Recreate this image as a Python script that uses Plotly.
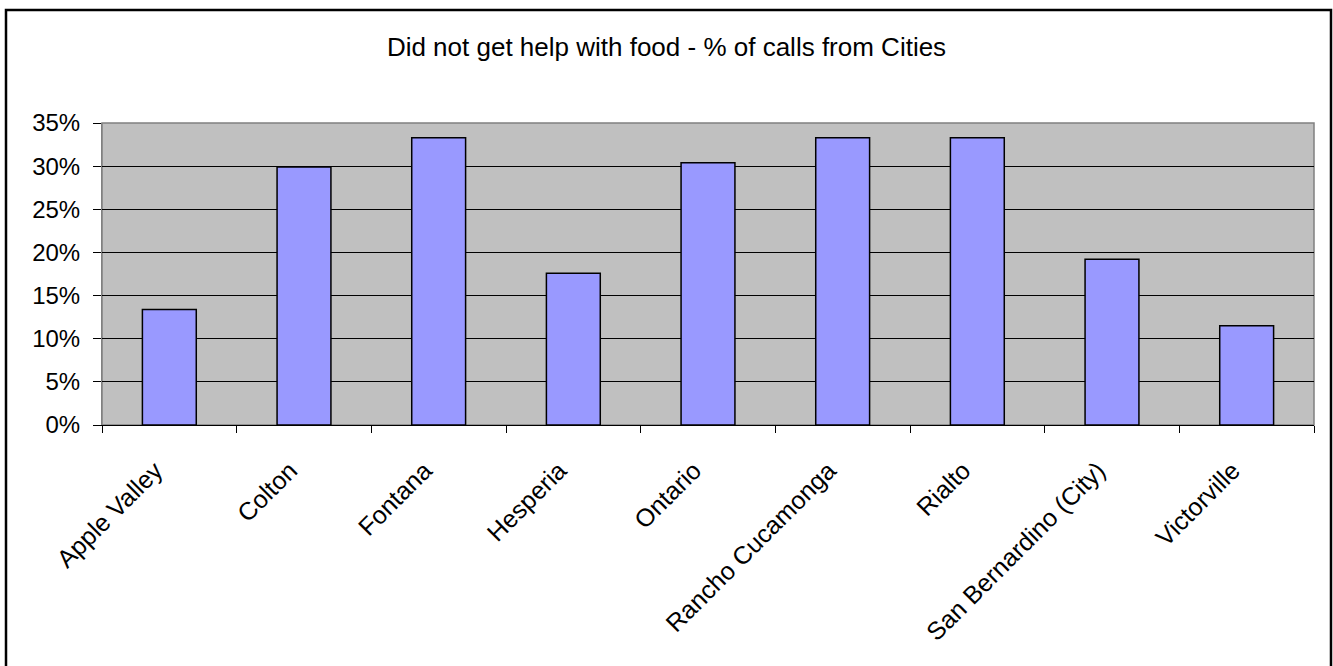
import plotly.graph_objects as go

# Share of calls (by city) that did not get help with food
cities = [
    "Apple Valley", "Colton", "Fontana", "Hesperia", "Ontario",
    "Rancho Cucamonga", "Rialto", "San Bernardino (City)", "Victorville",
]
pct_no_help = [0.134, 0.299, 0.333, 0.176, 0.304, 0.333, 0.333, 0.192, 0.115]
y_ticks = [0, 0.05, 0.10, 0.15, 0.20, 0.25, 0.30, 0.35]

FONT = "Liberation Sans, Arial, sans-serif"

fig = go.Figure(
    go.Bar(
        x=cities,
        y=pct_no_help,
        marker=dict(color="#9999FF", line=dict(color="black", width=1.5)),
        hoverinfo="x+y",
    )
)

fig.update_layout(
    width=1333,
    height=666,
    margin=dict(l=102, r=19, t=123, b=241),
    paper_bgcolor="white",
    plot_bgcolor="#C0C0C0",
    bargap=0.6,
    showlegend=False,
    font=dict(family=FONT, color="black"),
    title=dict(
        text="Did not get help with food - % of calls from Cities",
        x=0.5,
        xanchor="center",
        y=1 - 47 / 666,
        yanchor="middle",
        font=dict(family=FONT, size=26, color="black"),
    ),
)

fig.update_xaxes(
    tickangle=-45,
    tickson="boundaries",
    ticks="outside",
    ticklen=7,
    tickcolor="black",
    tickwidth=1,
    showline=True,
    linecolor="black",
    linewidth=1,
    showgrid=False,
    ticklabelstandoff=20,
    ticklabelshift=-14,
    tickfont=dict(family=FONT, size=25, color="black"),
)

fig.update_yaxes(
    range=[0, 0.35],
    tickvals=y_ticks,
    tickformat=".0%",
    ticks="outside",
    ticklen=8,
    tickcolor="black",
    tickwidth=1,
    showline=True,
    linecolor="#808080",
    linewidth=1,
    showgrid=True,
    gridcolor="black",
    gridwidth=1,
    zeroline=False,
    ticklabelstandoff=8,
    tickfont=dict(family=FONT, size=24, color="black"),
)

# Grey frame around the plotting area (top and right edges)
fig.add_shape(
    type="rect", xref="paper", yref="paper",
    x0=0, x1=1, y0=0, y1=1,
    line=dict(color="#808080", width=1.5),
    layer="below",
)

# Black outer border around the whole chart
fig.add_shape(
    type="rect", xref="paper", yref="paper",
    x0=(6 - 102) / 1212, x1=(1331 - 102) / 1212,
    y0=(425 - 700) / 302, y1=(425 - 10) / 302,
    line=dict(color="black", width=2.5),
)

fig.write_html("out.html")
